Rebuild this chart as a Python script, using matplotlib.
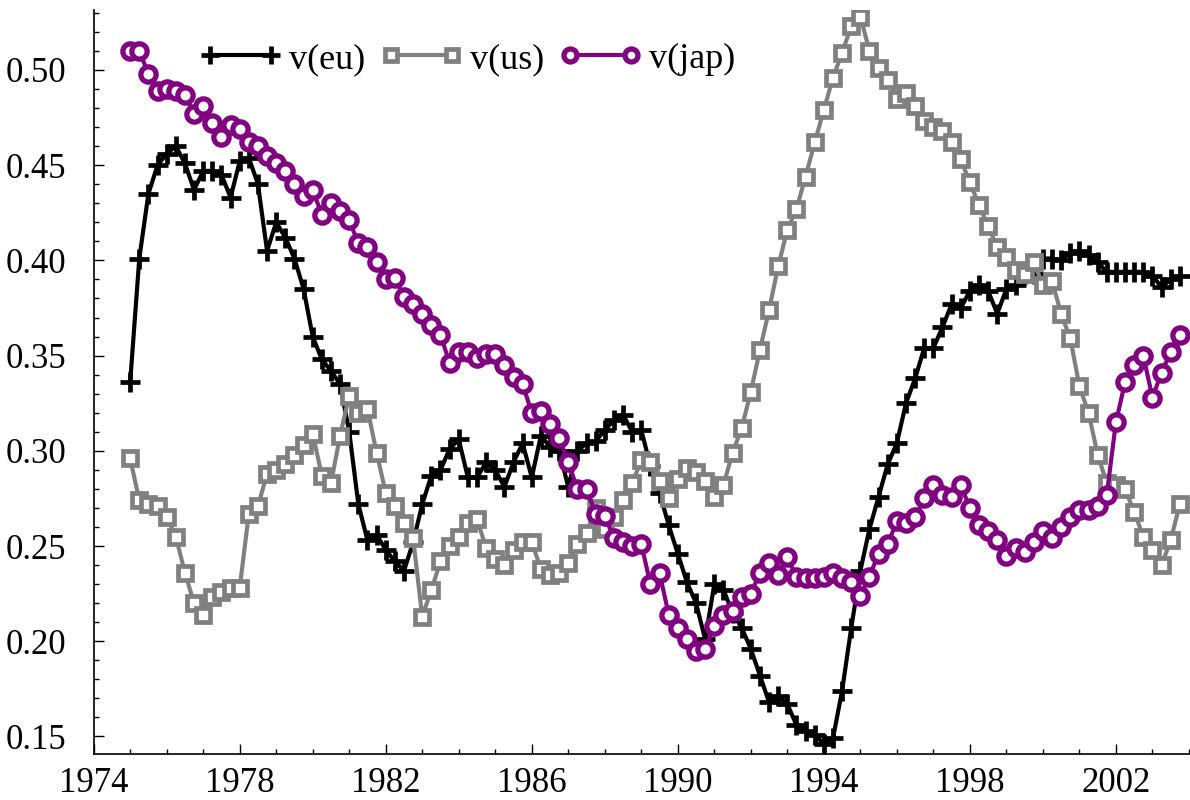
import matplotlib
matplotlib.use('Agg')
import matplotlib.pyplot as plt
from matplotlib.ticker import MultipleLocator, FormatStrFormatter
import numpy as np


plt.rcParams['font.family'] = 'serif'
plt.rcParams['font.serif'] = ['Liberation Serif', 'DejaVu Serif']

# quarterly observations, 1975Q1 .. 2003Q4
years = np.arange(1975, 2004, 0.25)

eu = [0.336, 0.401, 0.435, 0.450, 0.456, 0.460, 0.451, 0.437, 0.447, 0.447,
      0.445, 0.433, 0.452, 0.454, 0.440, 0.405, 0.420, 0.412, 0.401, 0.385,
      0.360, 0.348, 0.342, 0.335, 0.310, 0.272, 0.253, 0.256, 0.248, 0.242,
      0.237, 0.252, 0.272, 0.287, 0.290, 0.301, 0.306, 0.286, 0.286, 0.294,
      0.290, 0.281, 0.294, 0.304, 0.286, 0.308, 0.302, 0.300, 0.281, 0.300,
      0.304, 0.305, 0.311, 0.316, 0.319, 0.310, 0.311, 0.292, 0.278, 0.261,
      0.246, 0.231, 0.220, 0.201, 0.230, 0.227, 0.215, 0.207, 0.196, 0.182,
      0.168, 0.171, 0.167, 0.156, 0.153, 0.151, 0.146, 0.149, 0.174, 0.207,
      0.237, 0.259, 0.276, 0.293, 0.304, 0.325, 0.338, 0.354, 0.354, 0.365,
      0.377, 0.375, 0.384, 0.387, 0.384, 0.372, 0.385, 0.387, 0.393, 0.393,
      0.401, 0.401, 0.400, 0.404, 0.405, 0.403, 0.399, 0.394, 0.394, 0.394,
      0.394, 0.394, 0.392, 0.386, 0.390, 0.392]

us = [0.296, 0.274, 0.272, 0.271, 0.265, 0.255, 0.236, 0.220, 0.214, 0.223,
      0.226, 0.228, 0.228, 0.267, 0.271, 0.288, 0.290, 0.293, 0.298, 0.303,
      0.309, 0.287, 0.283, 0.308, 0.329, 0.320, 0.322, 0.299, 0.278, 0.271,
      0.262, 0.254, 0.213, 0.227, 0.242, 0.250, 0.255, 0.262, 0.264, 0.249,
      0.243, 0.240, 0.248, 0.252, 0.252, 0.238, 0.235, 0.236, 0.241, 0.251,
      0.257, 0.270, 0.259, 0.265, 0.274, 0.283, 0.295, 0.294, 0.284, 0.275,
      0.285, 0.291, 0.289, 0.284, 0.276, 0.282, 0.299, 0.312, 0.331, 0.353,
      0.374, 0.397, 0.416, 0.427, 0.444, 0.462, 0.479, 0.496, 0.509, 0.523,
      0.528, 0.510, 0.501, 0.495, 0.485, 0.488, 0.481, 0.473, 0.470, 0.468,
      0.462, 0.453, 0.441, 0.429, 0.418, 0.407, 0.402, 0.395, 0.393, 0.399,
      0.387, 0.389, 0.372, 0.359, 0.334, 0.320, 0.298, 0.283, 0.282, 0.280,
      0.268, 0.255, 0.248, 0.240, 0.253, 0.272]

jap = [0.510, 0.510, 0.498, 0.489, 0.490, 0.489, 0.487, 0.477, 0.481, 0.472,
       0.465, 0.471, 0.469, 0.462, 0.460, 0.455, 0.451, 0.447, 0.440, 0.434,
       0.437, 0.424, 0.430, 0.426, 0.421, 0.409, 0.407, 0.399, 0.390, 0.391,
       0.381, 0.377, 0.372, 0.366, 0.361, 0.346, 0.352, 0.352, 0.349, 0.351,
       0.351, 0.345, 0.339, 0.335, 0.320, 0.321, 0.314, 0.307, 0.294, 0.280,
       0.280, 0.267, 0.266, 0.254, 0.252, 0.250, 0.251, 0.230, 0.236, 0.214,
       0.207, 0.201, 0.195, 0.196, 0.208, 0.214, 0.216, 0.223, 0.225, 0.236,
       0.241, 0.235, 0.244, 0.234, 0.233, 0.233, 0.234, 0.236, 0.233, 0.231,
       0.224, 0.234, 0.246, 0.251, 0.263, 0.262, 0.265, 0.275, 0.282, 0.277,
       0.276, 0.282, 0.270, 0.261, 0.258, 0.253, 0.245, 0.249, 0.247, 0.252,
       0.258, 0.254, 0.260, 0.265, 0.269, 0.269, 0.271, 0.277, 0.315, 0.336,
       0.345, 0.350, 0.328, 0.341, 0.352, 0.361]

labels = ['v(eu)', 'v(us)', 'v(jap)']
year_ticks = [1974, 1978, 1982, 1986, 1990, 1994, 1998, 2002]


fig = plt.figure(figsize=(11.9, 8), dpi=100)
ax = fig.add_axes([0.0787, 0.0575, 0.9204, 0.93])

ax.plot(years, eu, '-', color='black', lw=3, marker='+', ms=15, mew=3.4,
        label=labels[0])
ax.plot(years, us, '-', color='gray', lw=3, marker='s', ms=9.5, mew=3.4,
        mfc='white', mec='gray', label=labels[1])
ax.plot(years, jap, '-', color='purple', lw=3, marker='o', ms=11, mew=3.8,
        mfc='white', mec='purple', label=labels[2])

ax.set_xlim(1974, 2004)
ax.set_ylim(0.1408, 0.5315)

ax.spines['top'].set_visible(False)
ax.spines['right'].set_visible(False)
ax.spines['left'].set_linewidth(1.2)
ax.spines['bottom'].set_linewidth(1.2)

ax.set_xticks(year_ticks)
ax.xaxis.set_minor_locator(MultipleLocator(1))
ax.yaxis.set_major_locator(MultipleLocator(0.05))
ax.yaxis.set_minor_locator(MultipleLocator(0.01))
ax.yaxis.set_major_formatter(FormatStrFormatter('%.2f'))
ax.tick_params(which='major', direction='in', length=7, width=1, labelsize=25)
ax.tick_params(which='minor', direction='in', length=3.6, width=1)
ax.tick_params(axis='y', which='major', pad=20)
ax.tick_params(axis='x', which='major', pad=9)

leg = ax.legend(loc='upper left', bbox_to_anchor=(0.0766, 0.985), ncol=3,
                frameon=False, fontsize=26, numpoints=2, handlelength=2.3,
                handletextpad=0.2, columnspacing=0.4, markerscale=0.85,
                borderaxespad=0.2)

plt.savefig('out.png', dpi=100)
plt.close()
